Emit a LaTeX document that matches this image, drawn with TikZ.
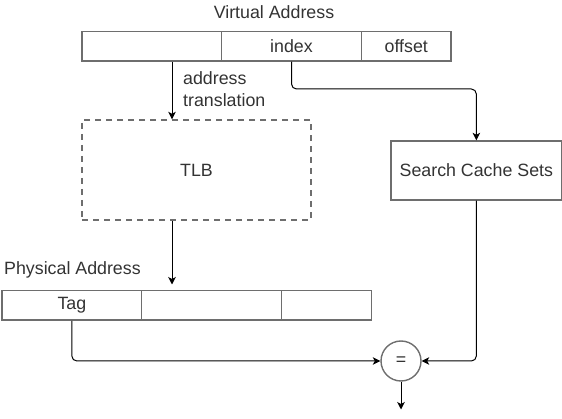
\documentclass[tikz,border=0pt]{standalone}
\usepackage{fontspec}
\setmainfont{Liberation Sans}
\usetikzlibrary{arrows.meta,calc}
\definecolor{txt}{HTML}{333333}
\definecolor{boxc}{HTML}{6E6E6E}
\tikzset{
  cell/.style={draw=boxc, line width=1.4pt, inner sep=0pt, minimum height=29.5pt, text=txt, font=\fontsize{17.8}{20}\selectfont},
  lbl/.style={inner sep=0pt, text=txt, font=\fontsize{17.8}{20}\selectfont},
  conn/.style={draw=black, line width=1pt, rounded corners=5pt},
  arr/.style={conn, -{Stealth[length=7.5pt,width=7.5pt,inset=2pt]}},
}
\begin{document}
\begin{tikzpicture}[x=1pt,y=-1pt]
\useasboundingbox (0,0) rectangle (562,419);
% virtual address
\node[lbl] (vatitle) at (274,12) {Virtual Address};
\node[cell, minimum width=139.5pt] (va1) at (151.75,46.25) {};
\node[cell, minimum width=140pt] (va2) at (291.5,46.25) {index};
\node[cell, minimum width=89.5pt] (va3) at (406.25,46.25) {offset};
% TLB
\node[draw=boxc, line width=1.4pt, dash pattern=on 6pt off 5pt, minimum width=229pt, minimum height=100pt, inner sep=0pt, text=txt, font=\fontsize{17.8}{20}\selectfont] (tlb) at (196.5,170) {TLB};
% search
\node[draw=boxc, line width=1.4pt, minimum width=170.5pt, minimum height=59pt, inner sep=0pt, text=txt, font=\fontsize{17.8}{20}\selectfont] (search) at (476.35,170.5) {Search Cache Sets};
% physical address
\node[lbl, anchor=west] (patitle) at (4,270) {Physical Address};
\node[cell, minimum width=139.7pt] (pa1) at (71.85,305.35) {Tag};
\node[cell, minimum width=140pt] (pa2) at (211.7,305.35) {};
\node[cell, minimum width=90pt] (pa3) at (326.7,305.35) {};
% comparator
\node[circle, draw=boxc, line width=1.4pt, minimum size=40pt, inner sep=0pt, text=txt, font=\fontsize{17.8}{20}\selectfont] (eq) at (401,361) {=};
% address translation label
\node[lbl, anchor=west, align=left, font=\fontsize{17.8}{22}\selectfont] (atl) at (183,89) {address\\translation};
% coordinates
\coordinate (ax) at (172,0);
\coordinate (bend) at (476.35,89);
\coordinate (paend) at (172,284.5);
\coordinate (out) at (401,409.5);
% connectors
\draw[arr] (va1.south -| ax) -- (tlb.north -| ax);
\draw[arr] (tlb.south -| ax) -- (paend);
\draw[arr] (va2.south) |- (bend) -- (search.north);
\draw[arr] (pa1.south) |- (eq.west);
\draw[arr] (search.south) |- (eq.east);
\draw[arr] (eq.south) -- (out);
\end{tikzpicture}
\end{document}
